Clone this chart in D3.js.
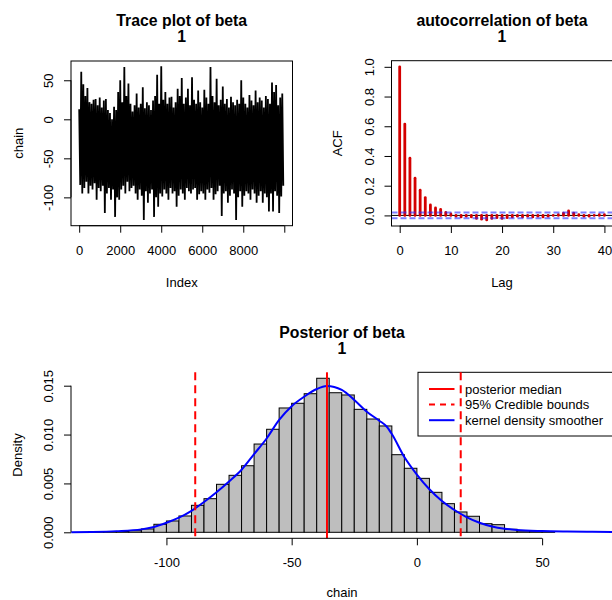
<!DOCTYPE html>
<html>
<head>
<meta charset="utf-8">
<script src="https://cdn.jsdelivr.net/npm/d3@7"></script>
<style>
  body { margin: 0; background: #fff; }
  text { font-family: "Liberation Sans", Arial, Helvetica, sans-serif; fill: #000; }
</style>
</head>
<body>
<div id="chart"></div>
<script>
// trace envelope, one high and one low per 100 iterations
const traceHigh = [13, 61, 45, 30, 40, 22, 20, 25, 26, 18,
  28, 15, 24, 26, 12, 8, 0, 16, 12, 35,
  50, 22, 67, 30, 46, 20, 10, 18, 33, 15,
  20, 41, 14, 22, 18, 12, 24, 30, 57, 20,
  68, 25, 35, 20, 28, 29, 15, 22, 39, 30,
  53, 20, 28, 39, 18, 54, 25, 20, 37, 22,
  15, 38, 28, 20, 67, 30, 22, 52, 18, 25,
  42, 20, 26, 15, 29, 22, 18, 25, 20, 50,
  28, 20, 15, 31, 24, 18, 37, 22, 28, 24,
  15, 30, 26, 20, 47, 35, 44, 18, 28, 33];
const traceLow = [-84, -95, -88, -80, -95, -85, -90, -82, -103, -88,
  -92, -85, -120, -95, -88, -103, -90, -125, -100, -103,
  -90, -85, -95, -80, -92, -88, -85, -95, -103, -90,
  -98, -129, -92, -107, -95, -90, -125, -100, -112, -95,
  -99, -90, -95, -103, -88, -95, -92, -112, -98, -90,
  -95, -103, -88, -92, -95, -90, -88, -103, -96, -92,
  -95, -103, -90, -94, -88, -103, -96, -92, -85, -124,
  -95, -92, -107, -98, -90, -95, -129, -100, -92, -112,
  -98, -92, -95, -103, -90, -95, -107, -98, -92, -107,
  -95, -100, -118, -95, -118, -92, -98, -120, -99, -85];

// autocorrelation by lag 0..40
const acfLags = d3.range(0, 41);
const acfValues = [1.0, 0.615, 0.385, 0.25, 0.17, 0.12, 0.07, 0.05, 0.04, 0.02,
  0.01, -0.005, -0.01, -0.005, -0.01, -0.02, -0.025, -0.03, -0.02, -0.015,
  -0.02, -0.015, -0.01, -0.005, -0.01, -0.005, -0.01, -0.005, -0.01, -0.005,
  0.0, 0.005, 0.015, 0.03, 0.015, 0.005, -0.005, -0.005, 0.0, 0.005, 0.005];
const acfBound = 0.0196;

// histogram: bins of width 5 starting at -130
const histStart = -130;
const histWidth = 5;
const histDensity = [0.00002, 0.00004, 0.00008, 0.00016, 0.00034, 0.00082, 0.00116, 0.00167,
  0.00276, 0.00344, 0.00491, 0.00583, 0.00681, 0.00903, 0.01054, 0.01272, 0.0132, 0.01418,
  0.01576, 0.01428, 0.01405, 0.01258, 0.01159, 0.01088, 0.00794, 0.00655, 0.00552, 0.00409,
  0.00293, 0.00208, 0.00164, 0.00088, 0.00078, 0.00031, 0.00014, 0.00006, 0.00002];

// kernel density curve
const densX = [-138, -130, -120, -110, -105, -100, -95, -90, -85, -80, -75, -70, -65, -60,
  -55, -50, -45, -40, -36, -30, -25, -20, -15, -12, -10, -5, 0, 5, 10, 15, 20, 25, 30, 35,
  40, 50, 60, 70, 78];
const densY = [0.00001, 0.00004, 0.00012, 0.0003, 0.00055, 0.00098, 0.0015, 0.0022, 0.0031,
  0.0041, 0.0052, 0.0064, 0.008, 0.0096, 0.0115, 0.0129, 0.01387, 0.01466, 0.01497, 0.01456,
  0.01354, 0.01234, 0.01142, 0.0108, 0.01006, 0.0077, 0.0059, 0.0044, 0.0032, 0.00228,
  0.00153, 0.00098, 0.0006, 0.00037, 0.00024, 0.00013, 0.00008, 0.00005, 0.00003];

const postMedian = -35.9;
const credLower = -88.5;
const credUpper = 17.5;
const legendLabels = ["posterior median", "95% Credible bounds", "kernel density smoother"];

const svg = d3.select("#chart").append("svg").attr("width", 612).attr("height", 600);

// R-like axis: line from first to last tick, ticks outward, labels
function bottomAxis(scale, ticks, labels, yPos) {
  const g = svg.append("g").attr("transform", `translate(0,${yPos})`)
    .call(d3.axisBottom(scale).tickValues(ticks).tickSize(7).tickSizeOuter(0)
      .tickFormat((d, i) => labels[i]));
  g.select(".domain").remove();
  g.append("line").attr("x1", scale(ticks[0])).attr("x2", scale(ticks[ticks.length - 1]))
    .attr("stroke", "#000");
  g.selectAll(".tick line").attr("stroke", "#000");
  g.selectAll(".tick text").attr("y", 29).attr("dy", null)
    .style("font-size", "13px").attr("fill", "#000");
}
function leftAxis(scale, ticks, labels, xPos) {
  const g = svg.append("g").attr("transform", `translate(${xPos},0)`)
    .call(d3.axisLeft(scale).tickValues(ticks).tickSize(7).tickSizeOuter(0)
      .tickFormat((d, i) => labels[i]));
  g.select(".domain").remove();
  g.append("line").attr("y1", scale(ticks[0])).attr("y2", scale(ticks[ticks.length - 1]))
    .attr("stroke", "#000");
  g.selectAll(".tick line").attr("stroke", "#000");
  g.selectAll(".tick text").attr("transform", "rotate(-90)").attr("x", 0).attr("y", -18)
    .attr("dy", null).attr("text-anchor", "middle")
    .style("font-size", "13px").attr("fill", "#000");
}
function title(cx, y, lines) {
  lines.forEach((t, i) => {
    svg.append("text").attr("x", cx).attr("y", y + i * 15.7).attr("text-anchor", "middle")
      .style("font-size", "15.8px").style("font-weight", "bold").text(t);
  });
}
function xLabel(cx, y, t) {
  svg.append("text").attr("x", cx).attr("y", y).attr("text-anchor", "middle")
    .style("font-size", "13px").text(t);
}
function yLabel(x, cy, t) {
  svg.append("text").attr("transform", `translate(${x},${cy}) rotate(-90)`)
    .attr("text-anchor", "middle").style("font-size", "13px").text(t);
}

// ---- trace plot ----
const tx = d3.scaleLinear().domain([-399, 10400]).range([71, 292.5]);
const ty = d3.scaleLinear().domain([-136.3, 74.7]).range([225.7, 61]);
const tracePts = [];
traceHigh.forEach((h, k) => {
  tracePts.push([k * 100 + 1, h]);
  tracePts.push([k * 100 + 51, traceLow[k]]);
});
svg.append("path").datum(tracePts)
  .attr("d", d3.line().x((d) => tx(d[0])).y((d) => ty(d[1])))
  .attr("fill", "none").attr("stroke", "#000").attr("stroke-width", 1.8)
  .attr("stroke-linejoin", "miter").attr("stroke-miterlimit", 1);
svg.append("rect").attr("x", 71).attr("y", 61).attr("width", 221.5).attr("height", 164.7)
  .attr("fill", "none").attr("stroke", "#000");
bottomAxis(tx, [0, 2000, 4000, 6000, 8000, 10000], ["0", "2000", "4000", "6000", "8000", ""], 225.7);
leftAxis(ty, [-100, -50, 0, 50], ["-100", "-50", "0", "50"], 71);
title(181.75, 26, ["Trace plot of beta", "1"]);
xLabel(181.75, 287.3, "Index");
yLabel(22.5, 143.3, "chain");

// ---- autocorrelation ----
const ax = d3.scaleLinear().domain([-1.6, 41.6]).range([391.5, 612.6]);
const ay = d3.scaleLinear().domain([-0.0712, 1.0412]).range([226, 60.7]);
svg.append("line").attr("x1", ax(-1.6)).attr("x2", ax(41.6)).attr("y1", ay(0)).attr("y2", ay(0))
  .attr("stroke", "#000");
svg.selectAll(".acfbar").data(acfLags).enter().append("line")
  .attr("x1", (d) => ax(d)).attr("x2", (d) => ax(d))
  .attr("y1", ay(0)).attr("y2", (d) => ay(acfValues[d]))
  .attr("stroke", "#d40000").attr("stroke-width", 2.8).attr("stroke-linecap", "round");
[acfBound, -acfBound].forEach((b) => {
  svg.append("line").attr("x1", ax(-1.6)).attr("x2", ax(41.6)).attr("y1", ay(b)).attr("y2", ay(b))
    .attr("stroke", "rgba(40,40,255,0.6)").attr("stroke-width", 2).attr("stroke-dasharray", "6,3");
});
svg.append("rect").attr("x", 391.5).attr("y", 60.7).attr("width", 221.1).attr("height", 165.3)
  .attr("fill", "none").attr("stroke", "#000");
bottomAxis(ax, [0, 10, 20, 30, 40], ["0", "10", "20", "30", "40"], 226);
leftAxis(ay, [0, 0.2, 0.4, 0.6, 0.8, 1.0], ["0.0", "0.2", "0.4", "0.6", "0.8", "1.0"], 391.5);
title(502, 26, ["autocorrelation of beta", "1"]);
xLabel(502, 287.3, "Lag");
yLabel(342, 143.3, "ACF");

// ---- posterior histogram ----
const hx = d3.scaleLinear().domain([-138.1, 78.3]).range([71, 613]);
const hy = d3.scaleLinear().domain([-0.000614, 0.01637]).range([538.3, 372.3]);
svg.selectAll(".bar").data(histDensity).enter().append("rect")
  .attr("x", (d, i) => hx(histStart + i * histWidth))
  .attr("width", (d, i) => hx(histStart + (i + 1) * histWidth) - hx(histStart + i * histWidth))
  .attr("y", (d) => hy(d))
  .attr("height", (d) => hy(0) - hy(d))
  .attr("fill", "#bebebe").attr("stroke", "#000").attr("stroke-width", 1);
svg.append("path").datum(densX.map((v, i) => [v, densY[i]]))
  .attr("d", d3.line().x((d) => hx(d[0])).y((d) => hy(d[1])).curve(d3.curveMonotoneX))
  .attr("fill", "none").attr("stroke", "#0000ff").attr("stroke-width", 2);
svg.append("line").attr("x1", hx(postMedian)).attr("x2", hx(postMedian))
  .attr("y1", 372.3).attr("y2", 538.3).attr("stroke", "#ff0000").attr("stroke-width", 2);
[credLower, credUpper].forEach((b) => {
  svg.append("line").attr("x1", hx(b)).attr("x2", hx(b)).attr("y1", 372.3).attr("y2", 538.3)
    .attr("stroke", "#ff0000").attr("stroke-width", 2).attr("stroke-dasharray", "8,5");
});
bottomAxis(hx, [-100, -50, 0, 50], ["-100", "-50", "0", "50"], 538.3);
leftAxis(hy, [0, 0.005, 0.01, 0.015], ["0.000", "0.005", "0.010", "0.015"], 71);
title(342, 338.3, ["Posterior of beta", "1"]);
xLabel(342, 596.5, "chain");
yLabel(22, 455, "Density");

// legend
const leg = svg.append("g");
leg.append("rect").attr("x", 418).attr("y", 372.3).attr("width", 195).attr("height", 63.7)
  .attr("fill", "#fff").attr("stroke", "#000");
const legStyles = [
  { color: "#ff0000", dash: null },
  { color: "#ff0000", dash: "6,5" },
  { color: "#0000ff", dash: null }
];
legendLabels.forEach((t, i) => {
  const y = 389 + i * 15.6;
  leg.append("line").attr("x1", 429).attr("x2", 454.5).attr("y1", y).attr("y2", y)
    .attr("stroke", legStyles[i].color).attr("stroke-width", 2)
    .attr("stroke-dasharray", legStyles[i].dash);
  leg.append("text").attr("x", 465).attr("y", y + 4.6).style("font-size", "13px").text(t);
});
// the upper credible line runs over the legend in the original
svg.append("line").attr("x1", hx(credUpper)).attr("x2", hx(credUpper)).attr("y1", 372.3).attr("y2", 436)
  .attr("stroke", "#ff0000").attr("stroke-width", 2).attr("stroke-dasharray", "8,5");
</script>
</body>
</html>
